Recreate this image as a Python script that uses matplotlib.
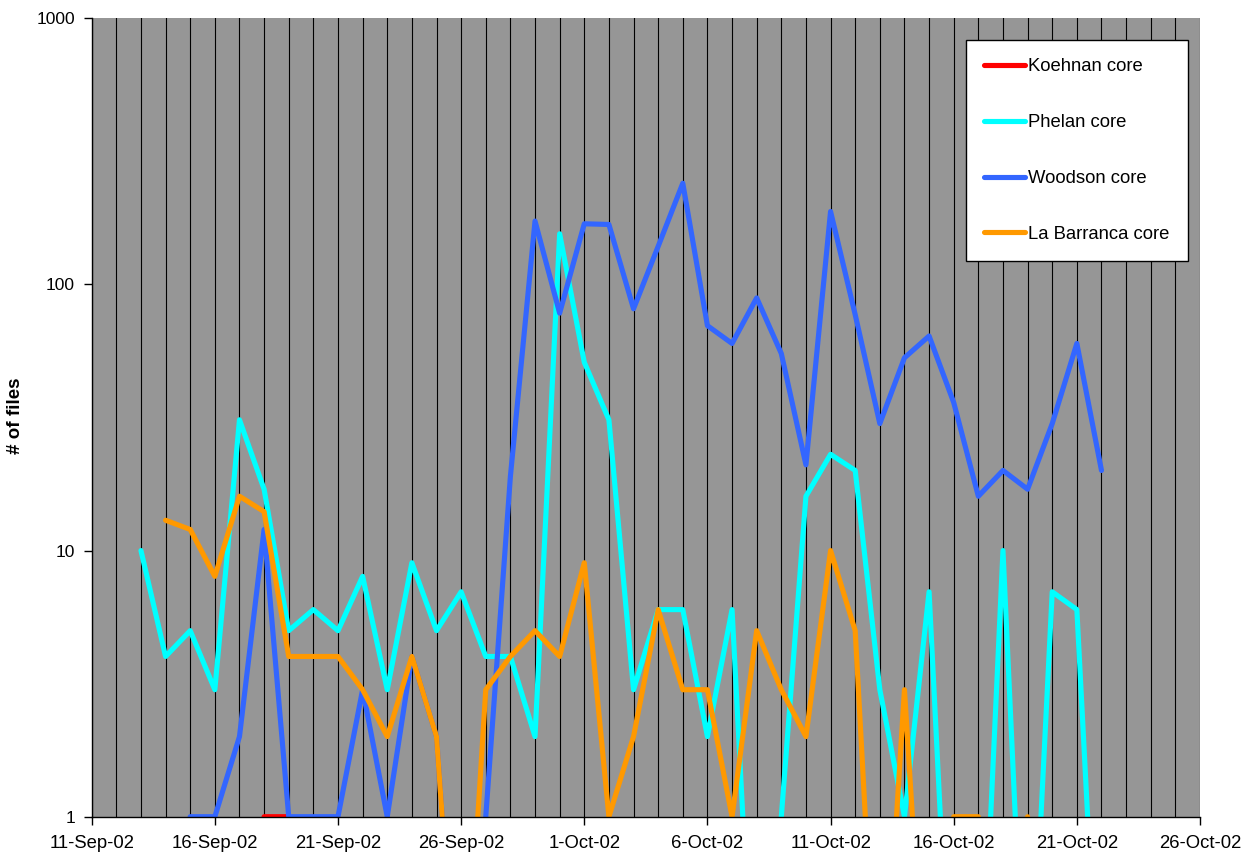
import numpy as np
import matplotlib
matplotlib.use("Agg")
import matplotlib.pyplot as plt
import matplotlib.dates as mdates
import datetime as dt

# ---- data (day 0 = 11-Sep-2002); None = no data, 0 = zero files ----
start_date = dt.date(2002, 9, 11)
n_days = 42

koehnan = [None]*7 + [1, 1] + [0]*33
phelan = [None, None, 10, 4, 5, 3, 31, 17, 5, 6, 5, 8, 3, 9, 5, 7, 4, 4, 2, 155,
          51, 31, 3, 6, 6, 2, 6, 0, 1, 16, 23, 20, 3, 1, 7, 0, 0, 10, 0, 7, 6, 0]
woodson = [None, None, None, 0, 1, 1, 2, 12, 1, 1, 1, 3, 1, 4, 2, 0, 1, 19, 173, 78,
           169, 168, 81, 139, 240, 70, 60, 89, 55, 21, 188, 77, 30, 53, 64, 36, 16,
           20, 17, 30, 60, 20]
labarranca = [None, None, None, 13, 12, 8, 16, 14, 4, 4, 4, 3, 2, 4, 2, 0, 3, 4, 5, 4,
              9, 1, 2, 6, 3, 3, 1, 5, 3, 2, 10, 5, 0, 3, 0, 1, 1, 0, 1, 0, 0, 0]

series_names = ["Koehnan core", "Phelan core", "Woodson core", "La Barranca core"]
series_values = [koehnan, phelan, woodson, labarranca]
series_colors = ["#FF0000", "#00FFFF", "#3366FF", "#FF9900"]

ZERO_PLOT = 0.1  # zeros on a log axis are drawn far below the axis minimum

dates = [start_date + dt.timedelta(days=i) for i in range(n_days)]
xnum = mdates.date2num(dates)

plt.rcParams["font.family"] = ["Liberation Sans", "DejaVu Sans"]
FS_Y = 12.5
FS_X = 13.3
FS_LEG = 13.3

W, H = 1258, 855
fig = plt.figure(figsize=(W/100, H/100), dpi=100)
fig.patch.set_facecolor("white")
ax = fig.add_axes([91.7/W, 1 - 816.7/H, (1200 - 91.7)/W, (816.7 - 18.3)/H])
ax.set_facecolor("#969696")

x0 = mdates.date2num(dt.date(2002, 9, 11))
x1 = mdates.date2num(dt.date(2002, 10, 26))

# daily vertical gridlines
for d in np.arange(x0, x1 + 0.5, 1.0):
    ax.axvline(d, color="black", lw=0.8, zorder=1)

handles = []
for name, vals, col in zip(series_names, series_values, series_colors):
    y = np.array([np.nan if v is None else (ZERO_PLOT if v == 0 else v) for v in vals], dtype=float)
    h, = ax.plot(xnum, y, color=col, lw=3.7, solid_joinstyle="round",
                 solid_capstyle="round", zorder=3, label=name)
    handles.append(h)

ax.set_yscale("log")
ax.set_ylim(1, 1000)
ax.set_xlim(x0, x1)
ax.set_yticks([1, 10, 100, 1000])
ax.set_yticklabels(["1", "10", "100", "1000"])
ax.yaxis.set_minor_locator(matplotlib.ticker.NullLocator())

xt = [dt.date(2002, 9, 11) + dt.timedelta(days=5*i) for i in range(10)]
ax.set_xticks(mdates.date2num(xt))
ax.set_xticklabels([f"{d.day}-{d.strftime('%b-%y')}" for d in xt])
ax.xaxis.set_minor_locator(matplotlib.ticker.NullLocator())

ax.tick_params(axis="both", direction="out", length=6, width=1, colors="black", pad=6)
ax.tick_params(axis="y", labelsize=FS_Y)
ax.tick_params(axis="x", labelsize=FS_X, pad=7)
for s in ["top", "right"]:
    ax.spines[s].set_visible(False)
for s in ["left", "bottom"]:
    ax.spines[s].set_color("black")
    ax.spines[s].set_linewidth(1)
    ax.spines[s].set_zorder(4)

fig.text(15.5/W, 1 - 416/H, "# of files", rotation=90, ha="center", va="center",
         fontsize=13.5, fontweight="bold")

leg = ax.legend(handles=handles, loc="upper left",
                bbox_to_anchor=(966/W, 1 - 40/H), bbox_transform=fig.transFigure,
                borderaxespad=0, frameon=True, fancybox=False, framealpha=1,
                edgecolor="black", facecolor="white", fontsize=FS_LEG,
                handlelength=2.2, handletextpad=0.15, labelspacing=2.1,
                borderpad=1.0)
leg.get_frame().set_linewidth(1)
leg.set_zorder(10)

fig.savefig("out.png", dpi=100)
